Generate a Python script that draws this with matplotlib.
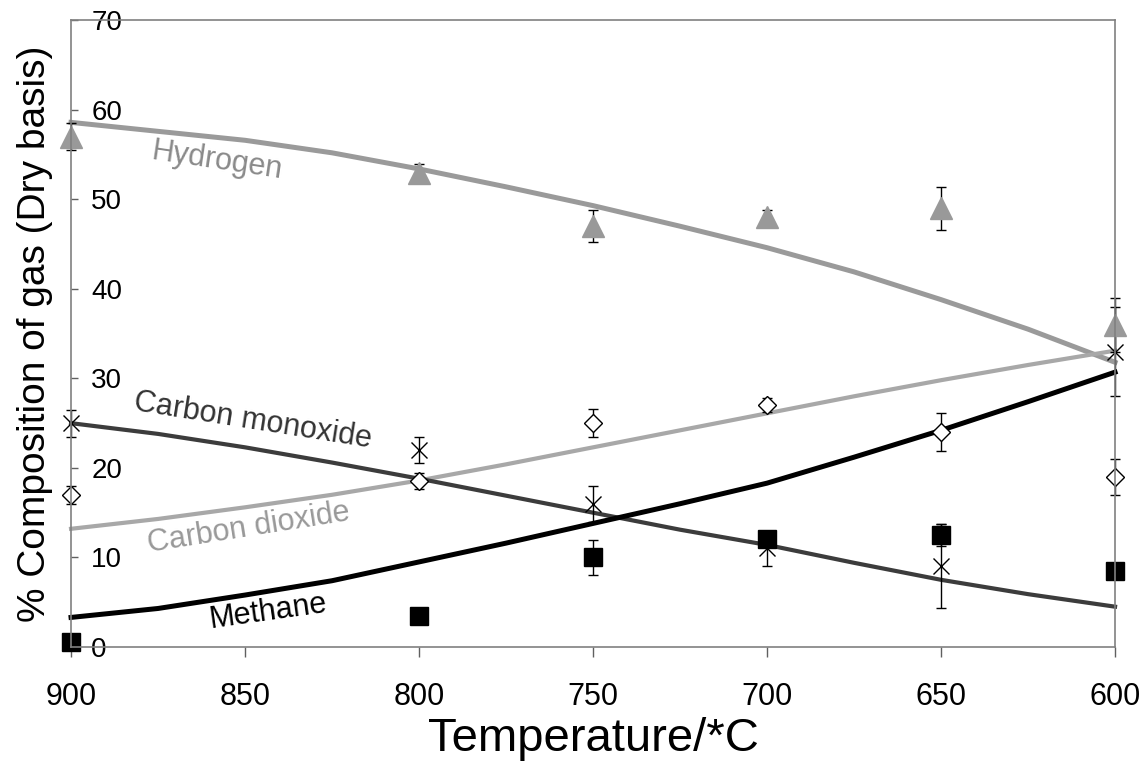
import matplotlib
matplotlib.use('Agg')
import matplotlib.pyplot as plt

plt.rcParams['font.family'] = ['Liberation Sans', 'DejaVu Sans']

# measured points (temperature, % dry gas, error)
temps = [900, 800, 750, 700, 650, 600]
h2 = [57.0, 53.0, 47.0, 48.0, 49.0, 36.0]
h2_err = [1.5, 1.0, 1.8, 0.8, 2.4, 3.0]
co = [25.0, 22.0, 16.0, 11.0, 9.0, 33.0]
co_err = [1.5, 1.5, 2.0, 2.0, 4.7, 5.0]
co2 = [17.0, 18.5, 25.0, 27.0, 24.0, 19.0]
co2_err = [1.0, 0.9, 1.6, 0.8, 2.1, 2.0]
ch4 = [0.6, 3.5, 10.0, 12.1, 12.5, 8.5]
ch4_err = [0.0, 0.0, 2.0, 0.7, 1.2, 0.0]

# model curves
model_t = [900, 875, 850, 825, 800, 775, 750, 725, 700, 675, 650, 625, 600]
h2_model = [58.6, 57.6, 56.6, 55.2, 53.4, 51.4, 49.3, 47.0, 44.6, 41.9, 38.8, 35.5, 31.8]
co_model = [25.0, 23.8, 22.3, 20.6, 18.8, 16.9, 15.0, 13.1, 11.4, 9.4, 7.5, 5.9, 4.5]
co2_model = [13.2, 14.3, 15.6, 17.0, 18.6, 20.4, 22.3, 24.2, 26.1, 28.0, 29.8, 31.5, 33.1]
ch4_model = [3.3, 4.3, 5.8, 7.4, 9.5, 11.6, 13.8, 16.0, 18.3, 21.2, 24.2, 27.4, 30.7]

fig = plt.figure(figsize=(11.46, 7.67), dpi=100)
ax = fig.add_axes([0.062, 0.1565, 0.911, 0.817])

ax.plot(model_t, h2_model, color='#9a9a9a', lw=3.6, clip_on=False, solid_capstyle='projecting')
ax.plot(model_t, co2_model, color='#a8a8a8', lw=3.0, clip_on=False, solid_capstyle='projecting')
ax.plot(model_t, co_model, color='#3c3c3c', lw=3.0, clip_on=False, solid_capstyle='projecting')
ax.plot(model_t, ch4_model, color='black', lw=3.6, clip_on=False, solid_capstyle='projecting')

ekw = dict(ecolor='black', elinewidth=1.0, capsize=3.5, capthick=1.0, ls='none', clip_on=False)
ax.errorbar(temps, h2, yerr=h2_err, marker='^', ms=16, color='#999999', mec='#999999', **ekw)
ax.errorbar(temps, co, yerr=co_err, marker='x', ms=12, mew=1.0, color='black', **ekw)
ax.errorbar(temps, co2, yerr=co2_err, marker='D', ms=9.5, mew=1.0, mfc='white', mec='black', color='black', **ekw)
ax.errorbar(temps, ch4, yerr=ch4_err, marker='s', ms=12.5, color='black', **ekw)

ax.text(858, 54.3, 'Hydrogen', color='#8a8a8a', fontsize=22, rotation=-8.5,
        ha='center', va='center', rotation_mode='anchor')
ax.text(847.7, 25.25, 'Carbon monoxide', color='#333333', fontsize=22, rotation=-9,
        ha='center', va='center', rotation_mode='anchor')
ax.text(849, 13.3, 'Carbon dioxide', color='#999999', fontsize=22, rotation=9,
        ha='center', va='center', rotation_mode='anchor')
ax.text(843.4, 3.9, 'Methane', color='black', fontsize=22, rotation=8,
        ha='center', va='center', rotation_mode='anchor')

ax.set_xlim(900, 600)
ax.set_ylim(0, 70)
ax.set_xticks([900, 850, 800, 750, 700, 650, 600])
ax.set_yticks(range(0, 71, 10))

for s in ax.spines.values():
    s.set_color('#808080')
    s.set_linewidth(1.2)

ax.tick_params(axis='x', direction='out', length=7, width=1, color='#606060',
               labelsize=22, pad=18)
ax.tick_params(axis='y', direction='in', length=5, width=1, color='#606060',
               labelsize=20, pad=-14.5)
for lab in ax.get_yticklabels():
    lab.set_horizontalalignment('left')

ax.set_xlabel('Temperature/*C', fontsize=34, labelpad=4)
ax.set_ylabel('% Composition of gas (Dry basis)', fontsize=28)
ax.yaxis.set_label_coords(-0.017, 0.5)

fig.savefig('out.png', dpi=100)
